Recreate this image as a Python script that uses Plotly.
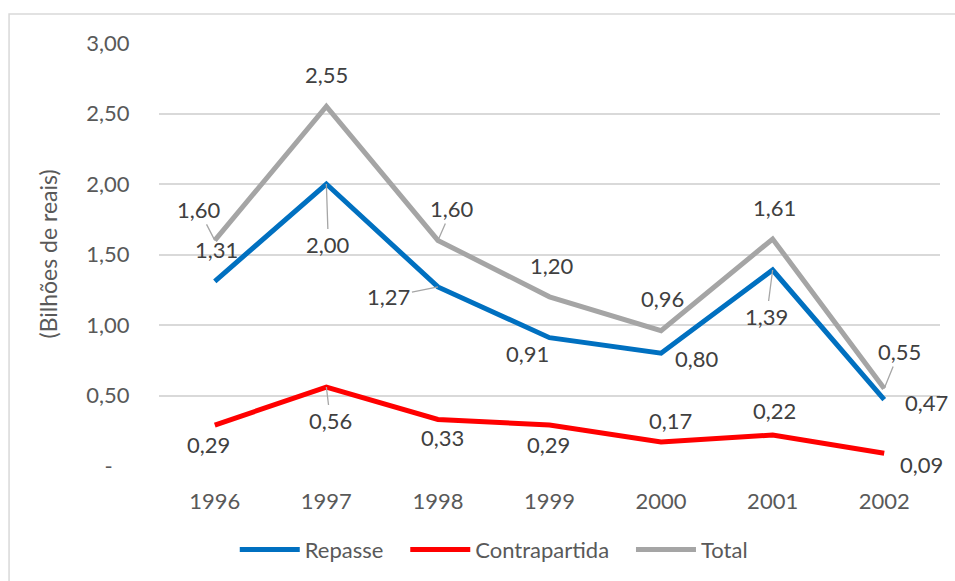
import plotly.graph_objects as go

# ---- data ----
years = ["1996", "1997", "1998", "1999", "2000", "2001", "2002"]
repasse = [1.31, 2.00, 1.27, 0.91, 0.80, 1.39, 0.47]
contrapartida = [0.29, 0.56, 0.33, 0.29, 0.17, 0.22, 0.09]
total = [1.60, 2.55, 1.60, 1.20, 0.96, 1.61, 0.55]
series_names = ["Repasse", "Contrapartida", "Total"]
y_tickvals = [0, 0.5, 1.0, 1.5, 2.0, 2.5, 3.0]
y_ticktext = ["-\u00a0\u00a0\u00a0", "0,50", "1,00", "1,50", "2,00", "2,50", "3,00"]
y_title = "(Bilhões de reais)"

# ---- styles ----
FONT = "Lato"
TICK_COLOR = "#595959"
LABEL_COLOR = "#404040"
LEADER_COLOR = "#A6A6A6"
FS = 22
colors = ["#0070C0", "#FF0000", "#A5A5A5"]
PAD = "\u00a0\u00a0\u00a0"  # spacing after legend text

series = list(zip(series_names, [repasse, contrapartida, total], colors))

# label placement (pixel offsets of label centre from the point; leader = draw leader line)
label_pos = {
    "Repasse": [(2, -32, False), (2, 60, True), (-49, 10, True), (-22, 16, False),
                (36, 5, False), (-6, 46, True), (42, 3, False)],
    "Contrapartida": [(-6, 19, False), (4, 33, True), (5, 18, False), (-1, 19, False),
                      (9, -22, False), (2, -24, False), (37, 11, False)],
    "Total": [(-16, -31, True), (0, -32, False), (14, -32, True), (2, -31, False),
              (1, -32, False), (2, -31, False), (15, -37, True)],
}


def fmt(v):
    return f"{v:.2f}".replace(".", ",")


fig = go.Figure()
for name, vals, color in series:
    fig.add_trace(go.Scatter(
        x=years, y=vals, name=name + PAD, mode="lines",
        line=dict(color=color, width=5),
    ))

for name, vals, color in series:
    # on a category axis, annotations are positioned by category index
    for ci, (yv, (dx, dy, leader)) in enumerate(zip(vals, label_pos[name])):
        if leader:
            fig.add_annotation(
                x=ci, y=yv, xref="x", yref="y", text=fmt(yv),
                showarrow=True, ax=dx, ay=dy, axref="pixel", ayref="pixel",
                arrowhead=0, arrowwidth=1.3,
                arrowcolor=LEADER_COLOR, standoff=0,
                font=dict(family=FONT, size=FS, color=LABEL_COLOR),
            )
        else:
            fig.add_annotation(
                x=ci, y=yv, xref="x", yref="y", text=fmt(yv),
                showarrow=False, xshift=dx, yshift=-dy,
                font=dict(family=FONT, size=FS, color=LABEL_COLOR),
            )

# y-axis title
fig.add_annotation(
    x=-0.1434, y=0.5, xref="paper", yref="paper", text=y_title, textangle=-90,
    showarrow=False, font=dict(family=FONT, size=FS + 1, color=TICK_COLOR),
    xanchor="center", yanchor="middle",
)

fig.update_layout(
    width=955, height=581,
    margin=dict(l=159, r=15, t=43, b=114),
    paper_bgcolor="white", plot_bgcolor="white",
    font=dict(family=FONT, size=FS, color=TICK_COLOR),
    showlegend=True,
    legend=dict(
        orientation="h", x=0.097, xanchor="left", y=-0.195, yanchor="middle",
        font=dict(family=FONT, size=FS, color=TICK_COLOR),
        itemwidth=60, tracegroupgap=0,
    ),
    shapes=[dict(
        type="rect", xref="paper", yref="paper",
        x0=-0.192, x1=1.06, y0=-0.3, y1=1.0684,
        line=dict(color="#D9D9D9", width=1.5), fillcolor="rgba(0,0,0,0)",
        layer="below",
    )],
)
fig.update_xaxes(
    type="category", range=[-0.5, 6.5], showgrid=False, zeroline=False,
    showline=False, ticks="outside", ticklen=16, tickcolor="rgba(0,0,0,0)",
    tickfont=dict(family=FONT, size=FS, color=TICK_COLOR),
)
fig.update_yaxes(
    range=[0, 3.0], tickvals=y_tickvals, ticktext=y_ticktext,
    showgrid=True, gridcolor="#D9D9D9", gridwidth=1.5, zeroline=False,
    showline=False, ticks="outside", ticklen=24, tickcolor="rgba(0,0,0,0)",
    tickfont=dict(family=FONT, size=FS, color=TICK_COLOR),
)

fig.write_html("out.html")
